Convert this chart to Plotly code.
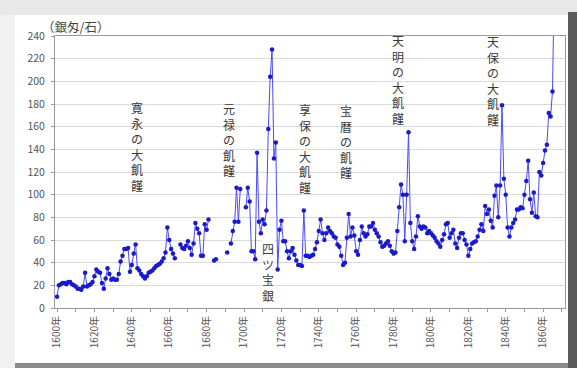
import plotly.graph_objects as go

# ---- data -------------------------------------------------------------
years = list(range(1600, 1867))

price_1600s = [10, 20, 21, 22, 22, 21, 23, 23, 21, 20]
price_1610s = [19, 17, 17, 16, 19, 31, 19, 20, 21, 23]
price_1620s = [28, 34, 32, 31, 22, 17, 26, 35, 30, 25]
price_1630s = [26, 25, 25, 30, 41, 46, 52, 52, 53, 32]
price_1640s = [38, 48, 56, 35, 33, 30, 28, 26, 28, 31]
price_1650s = [32, 33, 35, 37, 38, 39, 41, 44, 49, 71]
price_1660s = [60, 52, 48, 44, None, None, 56, 53, 52, 55]
price_1670s = [59, 53, 47, 57, 75, 70, 66, 46, 46, 74]
price_1680s = [69, 78, None, None, 42, 43, None, None, None, None]
price_1690s = [None, 49, None, 57, 68, 76, 106, 76, 105, None]
price_1700s = [None, 89, 106, 94, 50, 50, 43, 137, 76, 66]
price_1710s = [78, 74, 86, 158, 204, 228, 132, 146, 34, 69]
price_1720s = [77, 59, 59, 50, 44, 50, 53, 47, 42, 38]
price_1730s = [38, 37, 86, 46, 46, 45, 46, 47, 52, 58]
price_1740s = [68, 78, 66, 60, 66, 71, 68, 66, 63, 62]
price_1750s = [56, 54, 46, 38, 40, 62, 83, 63, 71, 64]
price_1760s = [50, 47, 60, 72, 66, 63, 65, 72, 72, 75]
price_1770s = [69, 66, 63, 58, 54, 55, 57, 59, 55, 50]
price_1780s = [48, 49, 68, 89, 109, 100, 59, 100, 155, 75]
price_1790s = [59, 52, 63, 81, 72, 70, 72, 71, 66, 68]
price_1800s = [66, 64, 62, 59, 57, 54, 60, 65, 74, 75]
price_1810s = [62, 66, 69, 57, 53, 62, 66, 66, 60, 56]
price_1820s = [46, 52, 57, 58, 59, 63, 69, 74, 68, 90]
price_1830s = [83, 87, 77, 71, 99, 108, 80, 108, 179, 114]
price_1840s = [100, 71, 63, 71, 75, 78, 87, 87, 89, 88]
price_1850s = [100, 112, 130, 96, 84, 102, 81, 80, 120, 117]
price_1860s = [128, 139, 144, 172, 169, 191, 290]

prices = (price_1600s + price_1610s + price_1620s + price_1630s + price_1640s
          + price_1650s + price_1660s + price_1670s + price_1680s + price_1690s
          + price_1700s + price_1710s + price_1720s + price_1730s + price_1740s
          + price_1750s + price_1760s + price_1770s + price_1780s + price_1790s
          + price_1800s + price_1810s + price_1820s + price_1830s + price_1840s
          + price_1850s + price_1860s)

x_tick_vals = list(range(1600, 1871, 10))
x_tick_text = [f"{v}年" if (v - 1600) % 20 == 0 else "" for v in x_tick_vals]

event_labels = ["寛永の大飢饉", "元禄の飢饉", "四ツ宝銀", "享保の大飢饉",
                "宝暦の飢饉", "天明の大飢饉", "天保の大飢饉"]
event_x = [1642.8, 1692.0, 1712.8, 1732.6, 1754.6, 1782.4, 1833.2]
# top edge of each label, in pixels from the top of the page
event_top_px = [98, 99, 239, 100, 101, 31, 32]

y_title = "（銀匁/石）"

# ---- figure -------------------------------------------------------------
FONT = "Noto Sans CJK JP, Noto Sans, sans-serif"
W, H = 577, 368
L, R, T, B = 55, 12, 36, 60
PW, PH = W - L - R, H - T - B


def px(x):
    return (x - L) / PW


def py(y):
    return (H - B - y) / PH


fig = go.Figure()
fig.add_trace(go.Scatter(
    x=years, y=prices, mode="lines+markers",
    line=dict(color="#4a4aff", width=1),
    marker=dict(color="#1a1ac8", size=4.5),
    connectgaps=False, hoverinfo="x+y", showlegend=False,
))

annotations = []
for lab, ex, etop in zip(event_labels, event_x, event_top_px):
    a = dict(
        x=ex, y=py(etop), xref="x", yref="paper",
        xanchor="center", yanchor="top",
        text="<br>".join(list(lab)), showarrow=False,
        font=dict(family=FONT, size=12, color="#3a3a3a"),
        borderpad=0,
    )
    if lab == "四ツ宝銀":
        a["bgcolor"] = "white"
    annotations.append(a)
annotations.append(dict(
    x=px(40), y=py(27), xref="paper", yref="paper", xanchor="left",
    yanchor="middle", text=y_title, showarrow=False,
    font=dict(family=FONT, size=12.5, color="#444"),
))

shapes = [
    dict(type="rect", xref="paper", yref="paper", layer="below",
         x0=px(0), x1=px(W), y0=py(15), y1=py(0),
         fillcolor="#e8e8e8", line=dict(width=0)),
    dict(type="rect", xref="paper", yref="paper", layer="below",
         x0=px(0), x1=px(15), y0=py(H), y1=py(15),
         fillcolor="#f1f1f1", line=dict(width=0)),
    dict(type="rect", xref="paper", yref="paper", layer="below",
         x0=px(568), x1=px(W), y0=py(H), y1=py(12),
         fillcolor="#5c5c5c", line=dict(width=0)),
    dict(type="rect", xref="paper", yref="paper", layer="below",
         x0=px(15), x1=px(568), y0=py(H), y1=py(363),
         fillcolor="#8a8a8a", line=dict(width=0)),
]

fig.update_layout(
    width=W, height=H,
    margin=dict(l=L, r=R, t=T, b=B, pad=0),
    paper_bgcolor="white", plot_bgcolor="white",
    font=dict(family=FONT, color="#555"),
    annotations=annotations, shapes=shapes,
    xaxis=dict(
        range=[1598.9, 1871.7], tickmode="array",
        tickvals=x_tick_vals, ticktext=x_tick_text, tickangle=-90,
        tickfont=dict(size=10, color="#555"),
        ticks="outside", ticklen=3, tickcolor="#999",
        showline=True, linecolor="#999", linewidth=1, mirror=True,
        showgrid=False, zeroline=False, fixedrange=True,
    ),
    yaxis=dict(
        range=[0, 240], dtick=20, tick0=0,
        tickfont=dict(size=10.5, color="#555"),
        ticks="outside", ticklen=3, tickcolor="#999",
        ticklabelstandoff=4,
        showline=True, linecolor="#999", linewidth=1, mirror=True,
        showgrid=True, gridcolor="#dadada", gridwidth=1,
        zeroline=False, fixedrange=True,
    ),
)

fig.write_html(
    "out.html",
    config={"displayModeBar": False},
    post_script="document.body.style.margin='0';document.body.style.overflow='hidden';",
)
